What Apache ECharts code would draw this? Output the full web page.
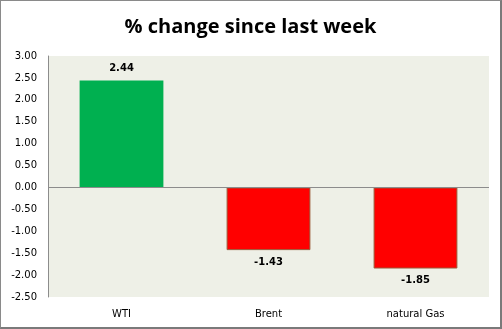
<!DOCTYPE html>
<html><head><meta charset="utf-8">
<script src="https://cdn.jsdelivr.net/npm/echarts@6/dist/echarts.min.js"></script>
<style>
html,body{margin:0;padding:0;background:#fff;}
#wrap{position:absolute;left:0;top:0;width:499px;height:326px;border:1px solid #8a8a8a;border-right:2px solid #7a7a7a;border-bottom:2px solid #7a7a7a;background:#fff;}
#c{width:499px;height:326px;}
</style></head>
<body><div id="wrap"><div id="c"></div></div>
<script>
const title = "% change since last week";
const categories = ["WTI", "Brent", "natural Gas"];
const values = [2.44, -1.43, -1.85];
const yMin = -2.5, yMax = 3.0, yStep = 0.5;

const chart = echarts.init(document.getElementById('c'), null, {renderer:'canvas'});
chart.setOption({
  animation:false,
  backgroundColor:'#ffffff',
  title:{text:title,left:'center',top:11,textStyle:{fontFamily:'Open Sans',fontWeight:'bold',fontSize:20,color:'#000'}},
  grid:{left:47,right:11,top:55,bottom:30,show:true,backgroundColor:'#EEF0E7',borderWidth:0,containLabel:false},
  xAxis:{type:'category',data:categories,position:'bottom',
    axisLine:{show:false},axisTick:{show:false},
    axisLabel:{interval:0,fontFamily:'DejaVu Sans',fontSize:10,color:'#000',margin:12}},
  yAxis:{type:'value',min:yMin,max:yMax,interval:yStep,
    axisLine:{show:true,lineStyle:{color:'#8c8c8c',width:1}},
    axisTick:{show:false},splitLine:{show:false},
    axisLabel:{fontFamily:'DejaVu Sans',fontSize:10,color:'#000',margin:11,formatter:v=>v.toFixed(2)}},
  series:[{
    type:'bar',barWidth:'57%',
    data:values.map(v=>({value:v,itemStyle:v>=0?{color:'#00B050',borderWidth:0}:{color:'#FF0000',borderColor:'#9a5a3a',borderWidth:1}})),
    label:{show:true,position:'outside',distance:7,fontFamily:'DejaVu Sans',fontWeight:'bold',fontSize:10,color:'#000',formatter:p=>p.value.toFixed(2)},
    markLine:{silent:true,symbol:'none',label:{show:false},lineStyle:{color:'#8c8c8c',type:'solid',width:1},data:[{yAxis:0}]}
  }]
});
</script></body></html>
